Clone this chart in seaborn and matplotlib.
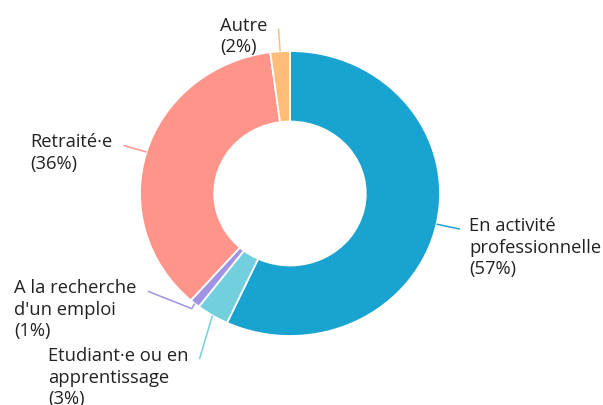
import numpy as np
import matplotlib
matplotlib.use("Agg")
import matplotlib.pyplot as plt
import seaborn as sns

# situation professionnelle, parts (sens horaire depuis midi)
categories = ["En activité\nprofessionnelle", "Etudiant·e ou en\napprentissage",
              "A la recherche\nd'un emploi", "Retraité·e", "Autre"]
shares = [56.9, 3.5, 1.1, 36.4, 2.1]
pct_labels = ["57%", "3%", "1%", "36%", "2%"]
colors = ["#18a3d0", "#72cfdd", "#a193e3", "#ff948b", "#ffbd78"]

# lignes de rappel : (rayon, décalage d'angle en degrés) depuis le milieu de la part
leaders = [
    [(1.0, 0), (1.16, 0)],
    [(1.0, 0), (1.31, 3.7)],
    [(1.0, 0), (1.04, 0.4), (1.17, -14.7)],
    [(1.0, 0), (1.16, 0)],
    [(1.0, 0), (1.16, 0)],
]

sns.set_theme(style="white")
plt.rcParams["font.family"] = ["Open Sans", "DejaVu Sans"]

fig = plt.figure(figsize=(6.03, 4.06), dpi=100)
ax = fig.add_axes([0, 0, 1, 1])

wedges, _ = ax.pie(shares, colors=colors, startangle=90, counterclock=False,
                   radius=1.0, wedgeprops=dict(width=0.495, edgecolor="white", linewidth=1.3))

# la figure d'origine est légèrement écrasée verticalement
ax.set_aspect("auto")
ax.set_xlim(-290 / 150, 313 / 150)
ax.set_ylim(-(406 - 194.5) / 142.5, 194.5 / 142.5)
ax.axis("off")

for w, cat, pct, col, pts in zip(wedges, categories, pct_labels, colors, leaders):
    mid = (w.theta1 + w.theta2) / 2
    xs = [r * np.cos(np.radians(mid + d)) for r, d in pts]
    ys = [r * np.sin(np.radians(mid + d)) for r, d in pts]
    ax.plot(xs, ys, color=col, lw=1.1, solid_capstyle="butt")
    right = xs[-1] > 0
    ax.annotate(f"{cat}\n({pct})", xy=(xs[-1], ys[-1]),
                xytext=(9 if right else -11, 13), textcoords="offset pixels",
                ha="left" if right else "right", va="top", multialignment="left",
                fontsize=13.2, color="#222222", linespacing=1.25)

fig.savefig("out.png", dpi=100)
